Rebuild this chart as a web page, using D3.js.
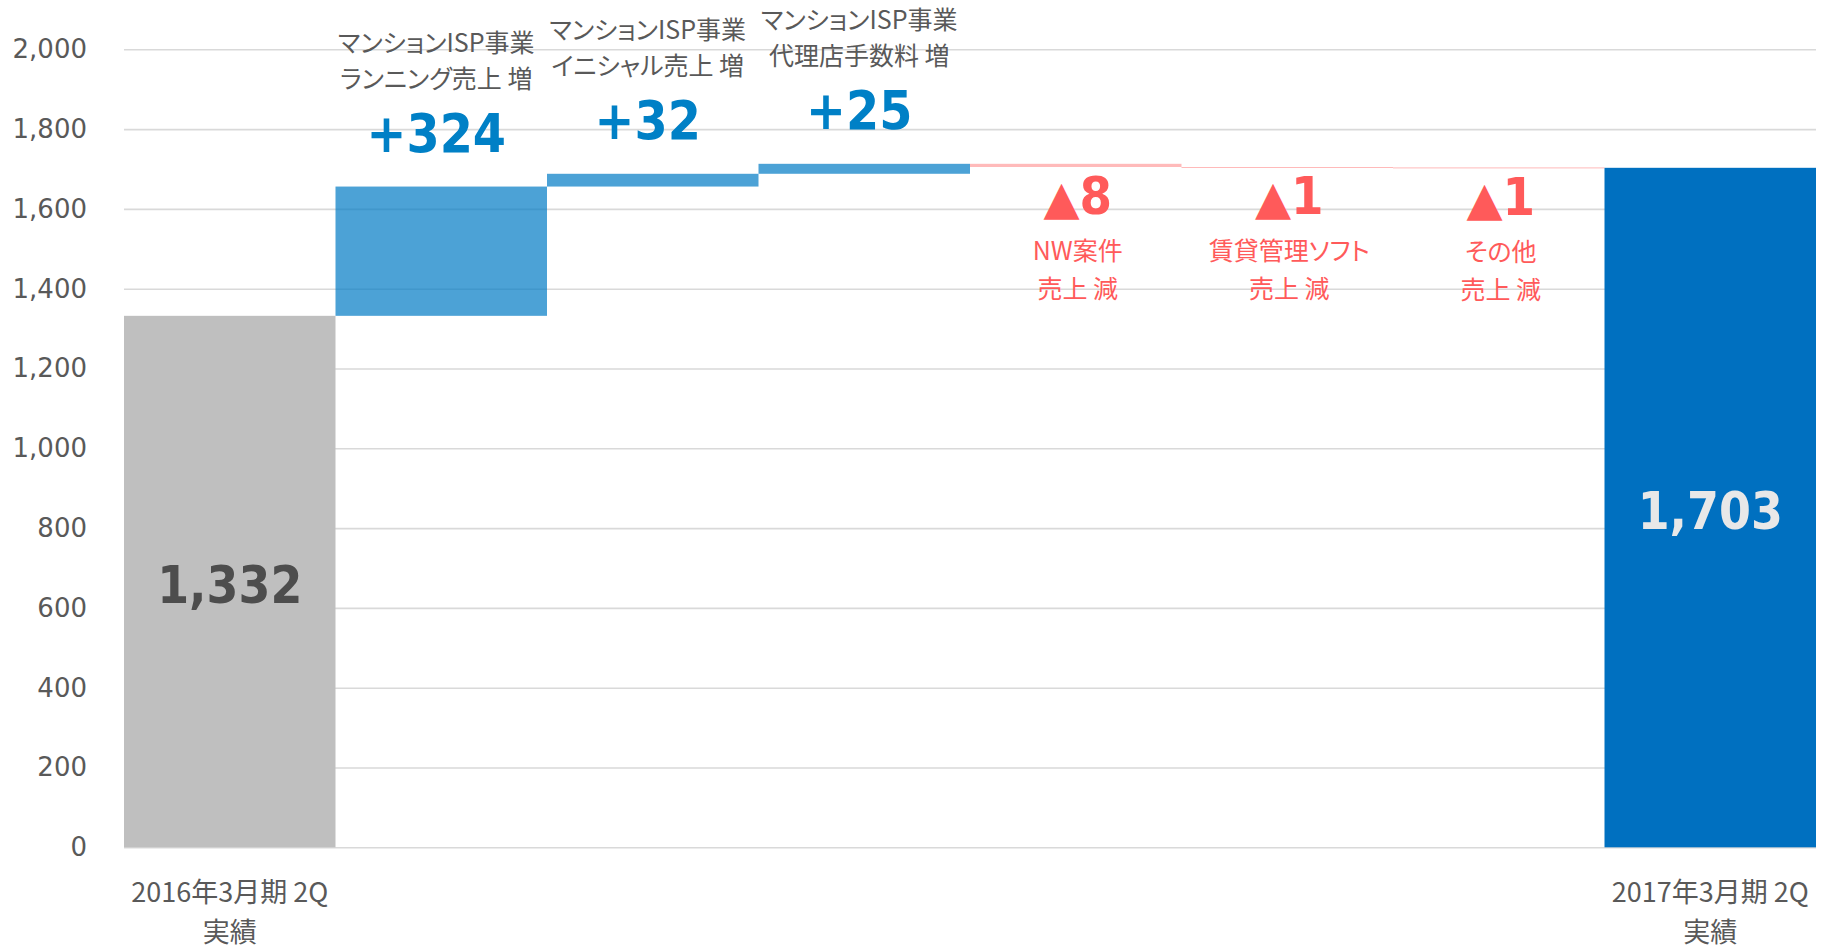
<!DOCTYPE html>
<html>
<head>
<meta charset="utf-8">
<script src="https://cdn.jsdelivr.net/npm/d3@7"></script>
<style>
  html, body { margin: 0; padding: 0; background: #ffffff; }
  svg { display: block; }
  .jp { font-family: "Noto Sans CJK JP", "Noto Sans", sans-serif; font-feature-settings: "palt" 1; }
  .num { font-family: "DejaVu Sans Condensed", "DejaVu Sans", sans-serif; font-weight: bold; }
</style>
</head>
<body>
<svg id="chart" width="1823" height="948"></svg>
<script>
// ---- data ----
const categories = ["base", "running", "initial", "agency", "nw", "rental", "other", "current"];
const kinds = ["total", "delta", "delta", "delta", "delta", "delta", "delta", "total"];
const values = [1332, 324, 32, 25, -8, -1, -1, 1703];
const valueLabels = ["1,332", "+324", "+32", "+25", "8", "1", "1", "1,703"];
const annotationLines = [
  [],
  ["マンションISP事業", "ランニング売上 増"],
  ["マンションISP事業", "イニシャル売上 増"],
  ["マンションISP事業", "代理店手数料 増"],
  ["NW案件", "売上 減"],
  ["賃貸管理ソフト", "売上 減"],
  ["その他", "売上 減"],
  []
];
const axisLabels = [
  ["2016年3月期 2Q", "実績"], [], [], [], [], [], [], ["2017年3月期 2Q", "実績"]
];
const yTicks = [0, 200, 400, 600, 800, 1000, 1200, 1400, 1600, 1800, 2000];

// ---- layout ----
const plotLeft = 124, plotRight = 1816, plotTop = 49.3, plotBottom = 847.3;
const svg = d3.select("#chart");

const x = d3.scaleBand().domain(categories).range([plotLeft, plotRight]).paddingInner(0).paddingOuter(0);
const y = d3.scaleLinear().domain([0, 2000]).range([plotBottom, plotTop]);

// waterfall segments
let running = 0;
const segs = categories.map((c, i) => {
  let lo, hi;
  if (kinds[i] === "total") { lo = 0; hi = values[i]; running = values[i]; }
  else { const start = running; running += values[i]; lo = Math.min(start, running); hi = Math.max(start, running); }
  return { c, i, lo, hi, v: values[i], kind: kinds[i] };
});

// grid + y axis
const yAxis = d3.axisLeft(y).tickValues(yTicks).tickFormat(d3.format(",")).tickSize(-(plotRight - plotLeft)).tickPadding(37);
const ga = svg.append("g").attr("transform", `translate(${plotLeft},0)`).call(yAxis);
ga.select(".domain").remove();
ga.selectAll(".tick line").attr("stroke", "#d9d9d9").attr("stroke-width", 1.6);
ga.selectAll(".tick text")
  .attr("fill", "#595959")
  .style("font-family", '"DejaVu Sans", sans-serif')
  .style("font-size", "26px");

// bars
function barFill(s) {
  if (s.kind === "total") return s.i === 0 ? "#bfbfbf" : "#0070c0";
  return s.v >= 0 ? "#007bc4" : "#ff5b5b";
}
function barOpacity(s) {
  if (s.kind === "total") return 1;
  return s.v >= 0 ? 0.7 : 0.42;
}
svg.append("g").selectAll("rect").data(segs).join("rect")
  .attr("x", d => x(d.c))
  .attr("width", x.bandwidth())
  .attr("y", d => y(d.hi))
  .attr("height", d => Math.max(y(d.lo) - y(d.hi), 1))
  .attr("fill", barFill)
  .attr("fill-opacity", barOpacity);

// labels inside total bars
svg.append("g").selectAll("text").data(segs.filter(d => d.kind === "total")).join("text")
  .attr("class", "num")
  .attr("x", d => x(d.c) + x.bandwidth() / 2)
  .attr("y", d => (y(d.lo) + y(d.hi)) / 2 + 21)
  .attr("text-anchor", "middle")
  .attr("fill", d => d.i === 0 ? "#4d4d4d" : "#e8e8e8")
  .style("font-size", "51px")
  .text(d => valueLabels[d.i]);

// increase annotations
const inc = segs.filter(d => d.kind === "delta" && d.v > 0);
const gi = svg.append("g");
inc.forEach(d => {
  const cx = x(d.c) + x.bandwidth() / 2 - 5;
  const top = y(d.hi);
  gi.append("text").attr("class", "num")
    .attr("x", cx).attr("y", top - 35)
    .attr("text-anchor", "middle").attr("fill", "#0080c6")
    .style("font-size", "53px").text(valueLabels[d.i]);
  annotationLines[d.i].forEach((t, k) => {
    gi.append("text").attr("class", "jp")
      .attr("x", cx).attr("y", top - 146 + k * 36)
      .attr("dominant-baseline", "central")
      .attr("text-anchor", "middle").attr("fill", "#595959")
      .style("font-size", "25px").text(t);
  });
});

// decrease annotations
const dec = segs.filter(d => d.kind === "delta" && d.v < 0);
const gd = svg.append("g");
dec.forEach(d => {
  const cx = x(d.c) + x.bandwidth() / 2 + 2;
  const bot = y(d.lo);
  const t = gd.append("text").attr("class", "num")
    .attr("x", cx).attr("y", bot + 47)
    .attr("text-anchor", "middle").attr("fill", "#ff5a5a")
    .style("font-size", "52px");
  t.append("tspan").style("font-family", '"DejaVu Sans", sans-serif').style("font-size", "47px").text("▲");
  t.append("tspan").text(valueLabels[d.i]);
  annotationLines[d.i].forEach((s, k) => {
    gd.append("text").attr("class", "jp")
      .attr("x", cx).attr("y", bot + 82 + k * 38)
      .attr("dominant-baseline", "central")
      .attr("text-anchor", "middle").attr("fill", "#ff5a5a")
      .style("font-size", "25px").text(s);
  });
});

// bottom category labels
const gb = svg.append("g");
categories.forEach((c, i) => {
  axisLabels[i].forEach((s, k) => {
    gb.append("text").attr("class", "jp")
      .attr("x", x(c) + x.bandwidth() / 2)
      .attr("y", 890 + k * 40)
      .attr("dominant-baseline", "central")
      .attr("text-anchor", "middle").attr("fill", "#595959")
      .style("font-size", "27px").text(s);
  });
});
</script>
</body>
</html>
